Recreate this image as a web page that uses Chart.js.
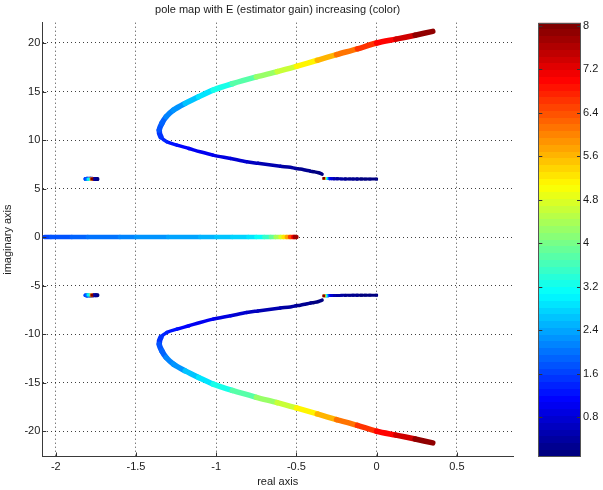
<!DOCTYPE html>
<html><head><meta charset="utf-8">
<script src="https://cdn.jsdelivr.net/npm/chart.js@4.4.1/dist/chart.umd.min.js"></script>
<style>
html,body{margin:0;padding:0;background:#fff;overflow:hidden}
#wrap{position:relative;width:603px;height:490px}
#main{position:absolute;left:0;top:0}
#cbar{position:absolute;left:520px;top:0}
</style></head>
<body><div id="wrap"><canvas id="main" width="603" height="490"></canvas><canvas id="cbar" width="83" height="490"></canvas></div>
<script>
const TITLE = 'pole map with E (estimator gain) increasing (color)';
const X_TITLE = 'real axis';
const Y_TITLE = 'imaginary axis';
const xTicks = [-2, -1.5, -1, -0.5, 0, 0.5];
const yTicks = [-20, -15, -10, -5, 0, 5, 10, 15, 20];
const cbarTicks = [0.8, 1.6, 2.4, 3.2, 4, 4.8, 5.6, 6.4, 7.2, 8];
const E_MIN = 0.075, E_MAX = 8.055;

// main root-locus branch (lower arm -> vertex -> upper arm)
const armRe   = [-0.340,-0.362,-0.389,-0.414,-0.445,-0.476,-0.507,-0.538,-0.60,-0.67,-0.74,-0.81,-0.91,-1.02,-1.10,-1.17,-1.245,-1.308,-1.345,-1.355,-1.339,-1.312,-1.266,-1.193,-1.110,-1.019,-0.90,-0.75,-0.62,-0.50,-0.37,-0.25,-0.12,0.00,0.12,0.24,0.35];
const armImUp = [6.49,6.63,6.73,6.80,6.91,7.01,7.08,7.19,7.30,7.45,7.60,7.76,8.10,8.45,8.79,9.13,9.48,9.82,10.34,11.03,11.72,12.40,13.09,13.78,14.46,15.15,15.80,16.50,17.05,17.60,18.22,18.80,19.40,20.00,20.40,20.80,21.20];
const armImLo = [-6.49,-6.63,-6.73,-6.80,-6.91,-7.01,-7.08,-7.19,-7.30,-7.45,-7.60,-7.76,-8.10,-8.45,-8.79,-9.13,-9.48,-9.82,-10.34,-11.03,-11.72,-12.40,-13.09,-13.78,-14.46,-15.15,-15.80,-16.50,-17.05,-17.60,-18.22,-18.80,-19.40,-20.00,-20.40,-20.80,-21.20];
const armE    = [0.08,0.12,0.16,0.20,0.24,0.28,0.32,0.36,0.44,0.52,0.60,0.68,0.80,0.92,1.02,1.12,1.22,1.32,1.45,1.62,1.80,1.98,2.18,2.45,2.75,3.05,3.45,3.95,4.45,4.90,5.40,5.90,6.35,6.80,7.20,7.60,8.05];

// short branch near (0, +/-6)
const stubRe   = [0,-0.042,-0.07,-0.095,-0.122,-0.147,-0.168,-0.195,-0.22,-0.245,-0.265,-0.28,-0.292,-0.30,-0.306,-0.312,-0.318,-0.324,-0.329];
const stubImUp = [5.98,5.98,5.98,5.99,5.99,5.99,6.0,6.0,6.0,6.01,6.01,6.02,6.02,6.03,6.03,6.04,6.04,6.05,6.05];
const stubImLo = [-5.98,-5.98,-5.98,-5.99,-5.99,-5.99,-6.0,-6.0,-6.0,-6.01,-6.01,-6.02,-6.02,-6.03,-6.03,-6.04,-6.04,-6.05,-6.05];
const stubE    = [0.08,0.11,0.14,0.17,0.2,0.23,0.26,0.3,0.36,0.44,0.55,0.7,0.9,1.2,1.7,2.5,3.2,5,8];

// small cluster near (-1.78, +/-6)
const clusRe   = [-1.74,-1.75,-1.765,-1.785,-1.805,-1.815,-1.805,-1.797,-1.782,-1.777,-1.775];
const clusImUp = [5.98,5.99,6.0,6.02,6.02,6.0,5.98,5.98,5.99,6.0,6.0];
const clusImLo = [-5.98,-5.99,-6.0,-6.02,-6.02,-6.0,-5.98,-5.98,-5.99,-6.0,-6.0];
const clusE    = [0.08,0.2,0.4,0.7,1.1,1.6,2.2,3.0,4.2,6.0,8.0];

// real-axis branch
const realRe = [-2.07,-2.05,-2.03,-2.0,-1.9,-1.8,-1.7,-1.6,-1.5,-1.4,-1.3,-1.2,-1.1,-1.0,-0.9,-0.8,-0.75,-0.7,-0.66,-0.63,-0.6,-0.58,-0.56,-0.54,-0.52,-0.51,-0.5];
const realIm = [0,0,0,0,0,0,0,0,0,0,0,0,0,0,0,0,0,0,0,0,0,0,0,0,0,0,0];
const realE  = [1.62,1.65,1.68,1.72,1.82,1.92,2.0,2.08,2.16,2.24,2.32,2.4,2.48,2.56,2.66,2.82,2.95,3.25,3.65,4.1,4.6,5.0,5.5,6.1,6.8,7.4,8.0];

const FONT = 'Liberation Sans, Arial, Helvetica, sans-serif';
const TXT = '#1a1a1a';

function jetRGB(t){
  t = Math.max(0, Math.min(1, t));
  const c = v => Math.round(255 * Math.max(0, Math.min(1, v)));
  return [c(1.5 - Math.abs(4*t - 3)), c(1.5 - Math.abs(4*t - 2)), c(1.5 - Math.abs(4*t - 1))];
}
function jet(e){
  const k = Math.floor(((e - E_MIN) / (E_MAX - E_MIN)) * 64);
  const t = Math.max(0, Math.min(63, k)) / 63;
  const [r,g,b] = jetRGB(t);
  return `rgb(${r},${g},${b})`;
}

function branch(re, im, E, thin, thick, ptRadius){
  return {
    data: re.map((x, i) => ({x: x, y: im[i]})),
    showLine: true,
    tension: 0.3,
    borderWidth: thin,
    borderCapStyle: 'round',
    borderJoinStyle: 'round',
    borderColor: jet(E[0]),
    segment: {
      borderColor: ctx => jet((E[ctx.p0DataIndex] + E[ctx.p1DataIndex]) / 2),
      borderWidth: ctx => (E[ctx.p1DataIndex] > 1.5 ? thick : thin)
    },
    pointRadius: ptRadius,
    pointStyle: 'rect',
    pointBorderWidth: 0,
    pointBackgroundColor: ctx => jet(E[ctx.dataIndex]),
    pointBorderColor: ctx => jet(E[ctx.dataIndex]),
    pointHoverRadius: ptRadius
  };
}

const inwardTicks = {
  id: 'inwardTicks',
  afterDraw(chart){
    const {ctx, chartArea: a} = chart;
    const x = chart.scales.x, y = chart.scales.y;
    ctx.save();
    ctx.strokeStyle = '#333';
    ctx.lineWidth = 1;
    x.ticks.forEach(t => {
      const px = Math.round(x.getPixelForValue(t.value)) + 0.5;
      ctx.beginPath(); ctx.moveTo(px, a.bottom); ctx.lineTo(px, a.bottom - 4); ctx.stroke();
    });
    y.ticks.forEach(t => {
      const py = Math.round(y.getPixelForValue(t.value)) + 0.5;
      ctx.beginPath(); ctx.moveTo(a.left, py); ctx.lineTo(a.left + 4, py); ctx.stroke();
    });
    ctx.restore();
  }
};

new Chart(document.getElementById('main'), {
  type: 'scatter',
  data: {
    datasets: [
      branch(armRe, armImUp, armE, 3.5, 5.5, 0),
      branch(armRe, armImLo, armE, 3.5, 5.5, 0),
      branch(stubRe, stubImUp, stubE, 3, 3, 2),
      branch(stubRe, stubImLo, stubE, 3, 3, 2),
      branch(clusRe, clusImUp, clusE, 4, 4, 2),
      branch(clusRe, clusImLo, clusE, 4, 4, 2),
      branch(realRe, realIm, realE, 4.5, 4.5, 0)
    ]
  },
  options: {
    responsive: false,
    animation: false,
    events: [],
    layout: {padding: {left: 0, right: 90, top: 0, bottom: 0}},
    plugins: {
      legend: {display: false},
      tooltip: {enabled: false},
      title: {
        display: true, text: TITLE, color: TXT, fullSize: false,
        font: {family: FONT, size: 11, weight: 'normal'},
        padding: {top: 3, bottom: 6.5}
      }
    },
    scales: {
      x: {
        type: 'linear', min: -2.084, max: 0.85,
        afterBuildTicks: s => { s.ticks = xTicks.map(v => ({value: v})); },
        afterFit: s => { s.height = 33.5; },
        grid: {color: 'rgba(0,0,0,0.75)', lineWidth: 1, drawTicks: false},
        border: {display: true, color: '#3a3a3a', width: 1, dash: [1, 3]},
        ticks: {color: TXT, font: {family: FONT, size: 11}, padding: 4, maxRotation: 0, callback: v => String(v)},
        title: {display: true, text: X_TITLE, color: TXT, font: {family: FONT, size: 11}, padding: {top: 0, bottom: 1}}
      },
      y: {
        type: 'linear', min: -22.6, max: 22.09,
        afterBuildTicks: s => { s.ticks = yTicks.map(v => ({value: v})); },
        afterFit: s => { s.width = 42.3; },
        grid: {color: 'rgba(0,0,0,0.75)', lineWidth: 1, drawTicks: false},
        border: {display: true, color: '#3a3a3a', width: 1, dash: [1, 3]},
        ticks: {color: TXT, font: {family: FONT, size: 11}, padding: 2, callback: v => String(v)},
        title: {display: true, text: Y_TITLE, color: TXT, font: {family: FONT, size: 11}, padding: {top: 1, bottom: 0}}
      }
    }
  },
  plugins: [inwardTicks]
});

// colour bar
const cbarFrame = {
  id: 'cbarFrame',
  afterDatasetsDraw(chart){
    const {ctx, chartArea: a} = chart;
    const y = chart.scales.y;
    ctx.save();
    ctx.strokeStyle = '#333';
    ctx.lineWidth = 1;
    y.ticks.forEach(t => {
      const py = Math.round(y.getPixelForValue(t.value)) + 0.5;
      ctx.beginPath(); ctx.moveTo(a.left, py); ctx.lineTo(a.left + 4, py); ctx.stroke();
      ctx.beginPath(); ctx.moveTo(a.right, py); ctx.lineTo(a.right - 4, py); ctx.stroke();
    });
    ctx.strokeStyle = '#555';
    ctx.strokeRect(Math.round(a.left) + 0.5, Math.round(a.top) + 0.5, Math.round(a.right - a.left) - 1, Math.round(a.bottom - a.top) - 1);
    ctx.restore();
  }
};

new Chart(document.getElementById('cbar'), {
  type: 'bar',
  data: {
    labels: [''],
    datasets: [{
      data: [[E_MIN, E_MAX]],
      borderWidth: 0,
      borderSkipped: false,
      barPercentage: 1,
      categoryPercentage: 1,
      backgroundColor: ctx => {
        const chart = ctx.chart;
        if (!chart.chartArea) return '#00f';
        const ys = chart.scales.y;
        const y0 = ys.getPixelForValue(E_MIN), y1 = ys.getPixelForValue(E_MAX);
        const g = chart.ctx.createLinearGradient(0, y0, 0, y1);
        for (let k = 0; k < 64; k++) {
          const [r, gg, b] = jetRGB(k / 63);
          const col = `rgb(${r},${gg},${b})`;
          g.addColorStop(k / 64, col);
          g.addColorStop((k + 1) / 64, col);
        }
        return g;
      }
    }]
  },
  options: {
    responsive: false,
    animation: false,
    events: [],
    layout: {padding: {left: 18.3, right: 0, top: 22.7, bottom: 33.3}},
    plugins: {legend: {display: false}, tooltip: {enabled: false}, title: {display: false}},
    scales: {
      x: {display: false},
      y: {
        position: 'right', min: E_MIN, max: E_MAX,
        afterBuildTicks: s => { s.ticks = cbarTicks.map(v => ({value: v})); },
        afterFit: s => { s.width = 22; },
        grid: {display: false, drawTicks: false},
        border: {display: false},
        ticks: {color: TXT, font: {family: FONT, size: 11}, padding: 2, callback: v => String(v)}
      }
    }
  },
  plugins: [cbarFrame]
});
</script>
</body></html>
